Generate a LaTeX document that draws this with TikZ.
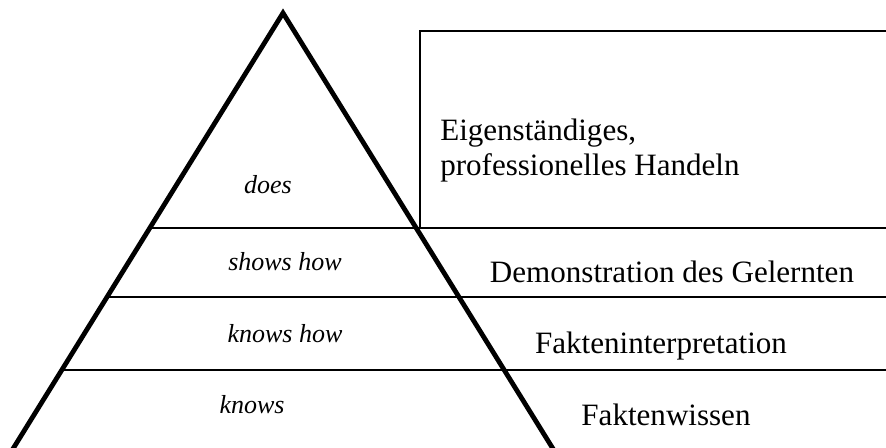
\documentclass[tikz,border=0pt]{standalone}
\usepackage{fontspec}
\setmainfont{Liberation Serif}
\usetikzlibrary{calc}

\tikzset{
  level/.style={line width=0.9pt},
  pyramid/.style={line width=3.6pt, line join=miter},
  stage/.style={font=\fontsize{19.5}{22}\selectfont\itshape, inner sep=0pt, anchor=base},
  meaning/.style={font=\fontsize{23.3}{26.2}\selectfont, inner sep=0pt, anchor=base}
}

\begin{document}
\begin{tikzpicture}[x=0.75pt,y=-0.75pt]
\clip (0,0) rectangle (886,447);

% corners of the pyramid
\coordinate (apex) at (283,13);
\coordinate (bl) at (11,452);
\coordinate (br) at (555,452);

% levels
\coordinate (c1) at ($(apex)!{(228-13)/439}!(bl)$);
\coordinate (c2) at ($(apex)!{(297-13)/439}!(bl)$);
\coordinate (c3) at ($(apex)!{(370-13)/439}!(bl)$);
\draw[level] (c1) -- (c1 -| 890,0);
\draw[level] (c2) -- (c2 -| 890,0);
\draw[level] (c3) -- (c3 -| 890,0);

% box for the top level
\draw[level] (420,228) -- (420,31) -- (890,31);

% pyramid
\draw[pyramid] (bl) -- (apex) -- (br);

% stages
\node[stage] (does) at (268,193) {does};
\node[stage] (shows) at (285,270) {shows how};
\node[stage] (knowshow) at (285,342) {knows how};
\node[stage] (knows) at (252,413) {knows};

% meanings
\node[meaning, anchor=base west, align=left] (handeln) at (440,175)
  {Eigenständiges,\\professionelles Handeln};
\node[meaning] (demo) at (672,282) {Demonstration des Gelernten};
\node[meaning] (interp) at (661,353) {Fakteninterpretation};
\node[meaning] (wissen) at (666,425) {Faktenwissen};
\end{tikzpicture}
\end{document}
